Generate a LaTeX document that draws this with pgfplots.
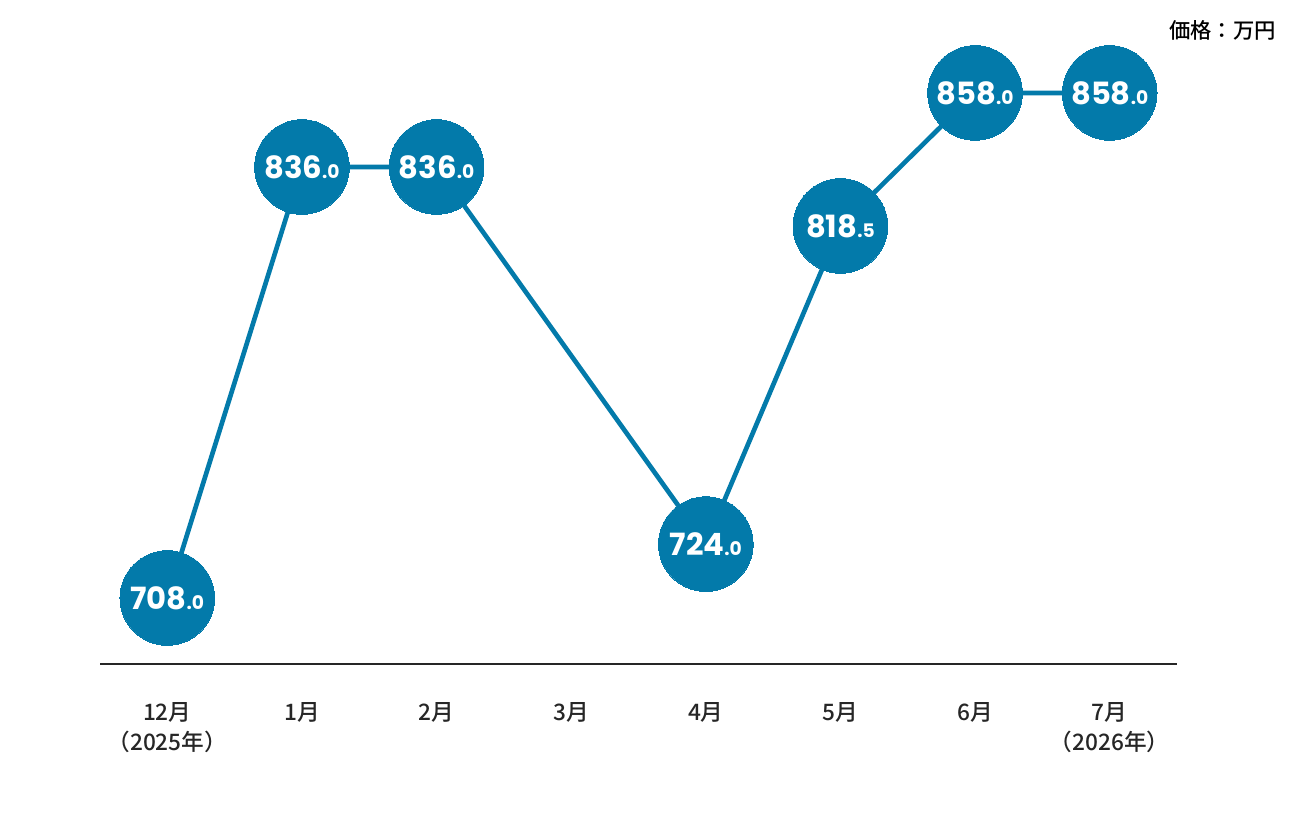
\documentclass[border=0pt]{standalone}
\usepackage{fontspec}
\setmainfont{Noto Sans CJK JP Medium}
\newfontfamily\pop{Poppins}
\usepackage{pgfplots}
\usepackage{pgfplotstable}
\pgfplotsset{compat=1.18}
\definecolor{blu}{HTML}{037AAA}
\def\splitval#1.#2\relax{{\fontsize{23}{23}\selectfont#1}{\fontsize{14}{14}\selectfont.#2}}
\pgfplotstableread{
x y lab
0 708.0 708.0
1 836.0 836.0
2 836.0 836.0
4 724.0 724.0
5 818.5 818.5
6 858.0 858.0
7 858.0 858.0
}\data
\begin{document}
\begin{tikzpicture}[x=1pt,y=1pt]
\useasboundingbox (0,0) rectangle (972,612);
\begin{axis}[
  at={(75pt,114pt)}, anchor=south west,
  scale only axis, width=807.75pt, height=498pt,
  xmin=-0.5, xmax=7.5, ymin=688.4, ymax=885.6,
  axis x line=bottom, axis y line=none,
  axis line style={-, line width=1.3pt, color=black!85},
  xtick={0,...,7},
  xticklabels={{12月\\（2025年）},1月,2月,3月,4月,5月,6月,{7月\\（2026年）}},
  major tick length=0pt,
  xticklabel style={align=center, anchor=north, font=\fontsize{17}{23}\selectfont, text=black!85, yshift=-25pt},
  clip=false,
]
\addplot[blu, line width=3.5pt, mark=*, mark size=35.5pt,
  mark options={solid, fill=blu, draw=blu, line width=0pt},
  point meta=explicit symbolic,
  nodes near coords={\pop\bfseries\expandafter\splitval\pgfplotspointmeta\relax},
  every node near coord/.style={anchor=center, inner sep=0pt, text=white},
] table[x=x,y=y,meta=lab]{\data};
\end{axis}
\node[anchor=east, font=\fontsize{16}{16}\selectfont, inner sep=0pt] at (957,589.5) {価格：万円};
\end{tikzpicture}
\end{document}
